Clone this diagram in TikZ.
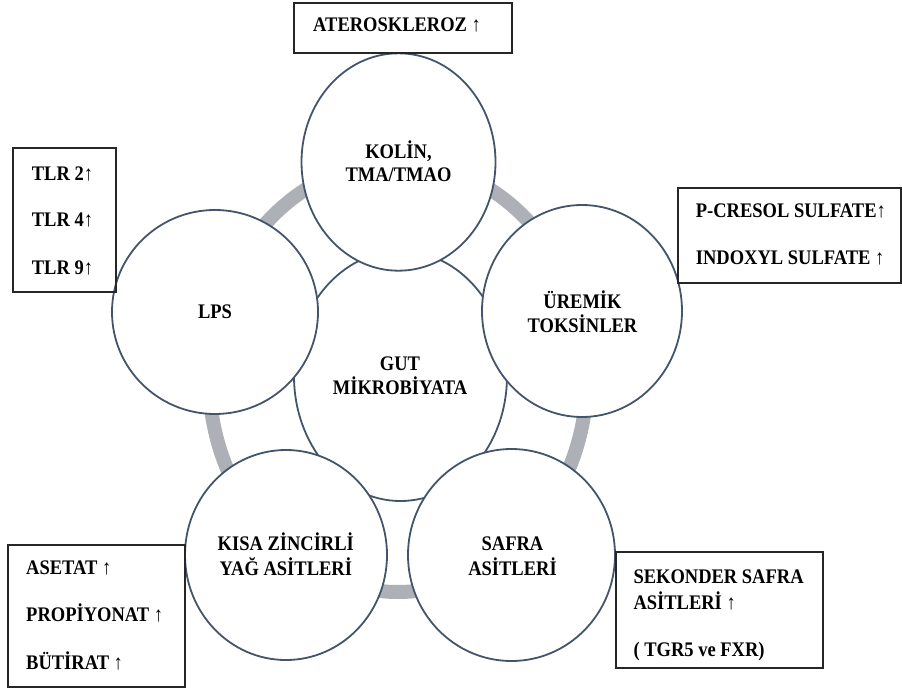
\documentclass[tikz,border=0pt]{standalone}
\usepackage{fontspec}
\setmainfont{Liberation Serif}
\usepackage{graphicx}
\usetikzlibrary{shapes.geometric}
\definecolor{ringgray}{HTML}{ADB0B7}
\definecolor{edgeblue}{HTML}{44546A}
\newcommand{\txtblock}[1]{\scalebox{1}[1.12]{\begin{tabular}[t]{@{}c@{}}#1\end{tabular}}}
\newcommand{\txtline}[1]{\scalebox{1}[1.12]{#1}}
\tikzset{
  every node/.style={font=\fontsize{18.5}{20.3}\selectfont\bfseries},
  bub/.style={ellipse, draw=edgeblue, line width=1.8pt, fill=white, inner sep=0pt},
  ringst/.style={ellipse, draw=ringgray, line width=14pt, inner sep=0pt},
  boxst/.style={rectangle, draw=black!85, line width=1.1pt, inner sep=0pt},
  ctext/.style={anchor=base, inner sep=0pt, text=black},
  btext/.style={anchor=base west, inner sep=0pt, text=black}
}
\begin{document}
\begin{tikzpicture}[x=1pt,y=-1pt]
\useasboundingbox (0,0) rectangle (902,688);
% ring
\node[ringst, minimum width=378pt, minimum height=430pt] (ring) at (398,377) {};
% central
\node[bub, minimum width=213pt, minimum height=250pt] (gut) at (400.5,376) {};
% outer
\node[bub, minimum width=194pt, minimum height=217.4pt] (kolin) at (398.5,162) {};
\node[bub, minimum width=206pt, minimum height=204pt] (lps) at (215,312) {};
\node[bub, minimum width=200pt, minimum height=212pt] (uremik) at (582,311) {};
\node[bub, minimum width=207pt, minimum height=212pt] (safra) at (511.5,555) {};
\node[bub, minimum width=202pt, minimum height=210pt] (kisa) at (286,555) {};
% circle texts
\node[ctext] (tgut) at (400,370) {\txtblock{GUT\\MİKROBİYATA}};
\node[ctext] (tkolin) at (398.5,158.3) {\txtblock{KOLİN,\\TMA/TMAO}};
\node[ctext] (tlps) at (215,318.3) {\txtline{LPS}};
\node[ctext] (turemik) at (582.5,308.3) {\txtblock{ÜREMİK\\TOKSİNLER}};
\node[ctext] (tsafra) at (512.5,550.7) {\txtblock{SAFRA\\ASİTLERİ}};
\node[ctext] (tkisa) at (285.8,550.7) {\txtblock{KISA ZİNCİRLİ\\YAĞ ASİTLERİ}};
% boxes
\node[boxst, minimum width=218pt, minimum height=50pt] (bath) at (403,28) {};
\node[boxst, minimum width=103pt, minimum height=144pt] (btlr) at (64.5,220) {};
\node[boxst, minimum width=223pt, minimum height=95pt] (bpcr) at (789.5,235.5) {};
\node[boxst, minimum width=177pt, minimum height=142pt] (base) at (96.5,616) {};
\node[boxst, minimum width=207pt, minimum height=116pt] (bsek) at (719.5,610) {};
% box texts
\node[btext] (tath) at (313,31.7) {\txtline{ATEROSKLEROZ ↑}};
\node[btext] (ttlra) at (31.7,180) {\txtline{TLR 2↑}};
\node[btext] (ttlrb) at (31.7,226.7) {\txtline{TLR 4↑}};
\node[btext] (ttlrc) at (31.7,274.3) {\txtline{TLR 9↑}};
\node[btext] (tpcr) at (695.7,217.3) {\txtline{P-CRESOL SULFATE↑}};
\node[btext] (tind) at (695.7,264) {\txtline{INDOXYL SULFATE ↑}};
\node[btext] (tase) at (26,574.7) {\txtline{ASETAT ↑}};
\node[btext] (tpro) at (26,621.7) {\txtline{PROPİYONAT ↑}};
\node[btext] (tbut) at (26,669) {\txtline{BÜTİRAT ↑}};
\node[btext] (tseka) at (633.3,583) {\txtline{SEKONDER SAFRA}};
\node[btext] (tsekb) at (633.3,609) {\txtline{ASİTLERİ ↑}};
\node[btext] (tsekc) at (633.3,656.3) {\txtline{( TGR5 ve FXR)}};
\end{tikzpicture}
\end{document}
